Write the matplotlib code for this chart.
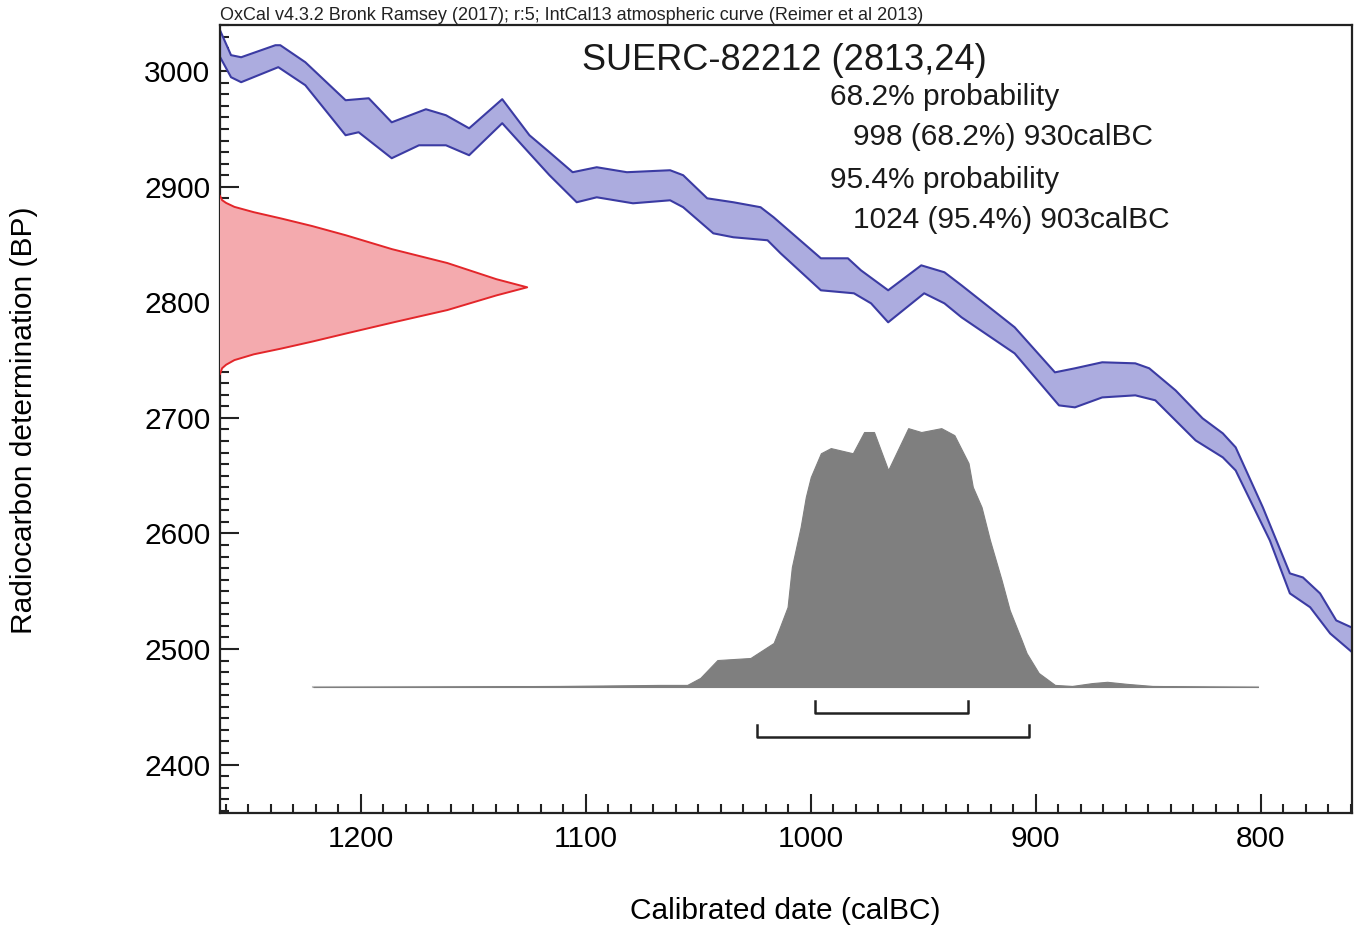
#!/usr/bin/env python3
"""OxCal-style calibration plot for SUERC-82212 (2813,24)."""

import numpy as np
import matplotlib
matplotlib.use("Agg")
import matplotlib.pyplot as plt
from matplotlib.ticker import MultipleLocator

plt.rcParams["font.family"] = ["Liberation Sans", "DejaVu Sans"]

# IntCal13 band, upper edge (calBC, BP)
CURVE_HI_YEAR = [1263.4, 1262.5, 1257.6, 1253.1, 1237.9, 1235.7, 1224.6, 1206.7,
                 1196.4, 1186.2, 1171.0, 1162.1, 1151.8, 1137.1, 1125.0, 1116.1,
                 1105.8, 1095.1, 1081.7, 1062.5, 1056.7, 1046.0, 1034.4, 1022.3,
                 1016.5, 995.5, 983.5, 977.7, 965.6, 950.9, 940.6, 933.0, 909.4,
                 891.5, 882.6, 870.5, 855.8, 849.6, 837.9, 825.9, 816.9, 811.2,
                 799.1, 787.1, 781.3, 773.7, 766.5, 756.7]
CURVE_HI_BP = [3038.1, 3035.5, 3013.9, 3012.1, 3022.5, 3022.5, 3007.8, 2974.9,
               2976.6, 2955.8, 2967.1, 2961.9, 2950.6, 2975.8, 2944.6, 2929.9,
               2912.6, 2916.9, 2912.6, 2914.3, 2910.0, 2890.0, 2886.6, 2882.3,
               2873.6, 2838.1, 2838.1, 2827.7, 2810.4, 2832.0, 2826.0, 2814.7,
               2778.4, 2739.4, 2742.9, 2748.1, 2747.2, 2742.9, 2723.8, 2699.6,
               2686.6, 2674.5, 2622.5, 2565.4, 2561.9, 2548.1, 2524.7, 2516.0]

# IntCal13 band, lower edge
CURVE_LO_YEAR = [1263.4, 1257.6, 1253.1, 1236.6, 1224.6, 1206.7, 1200.9, 1186.2,
                 1174.1, 1162.1, 1151.8, 1137.1, 1125.0, 1116.1, 1104.0, 1095.1,
                 1079.0, 1062.5, 1056.7, 1043.3, 1034.4, 1019.2, 1013.4, 995.5,
                 980.8, 973.2, 965.6, 949.6, 940.6, 933.0, 909.4, 889.7, 882.6,
                 870.5, 855.8, 846.9, 829.0, 816.9, 811.2, 796.0, 787.1, 778.1,
                 769.2, 756.7]
CURVE_LO_BP = [3015.6, 2994.8, 2990.5, 3003.5, 2987.9, 2944.6, 2947.2, 2924.7,
               2935.9, 2935.9, 2927.3, 2955.0, 2929.0, 2910.0, 2886.6, 2890.9,
               2885.7, 2888.3, 2882.3, 2859.7, 2856.3, 2853.7, 2842.4, 2810.4,
               2807.8, 2799.1, 2782.7, 2807.8, 2799.1, 2787.0, 2755.8, 2710.8,
               2709.1, 2717.7, 2719.5, 2715.2, 2680.5, 2665.8, 2654.5, 2593.9,
               2548.1, 2536.1, 2513.4, 2492.6]

# radiocarbon measurement (red), relative height by BP
MEAS_BP = [2892, 2888.4, 2886, 2882.6, 2878, 2872.5, 2866, 2858, 2846, 2834,
           2820, 2813, 2806, 2793.3, 2783, 2773, 2766, 2760, 2755, 2750,
           2746, 2743, 2738]
MEAS_REL = [0.0, 0.007, 0.02, 0.047, 0.11, 0.20, 0.30, 0.41, 0.56, 0.74,
            0.90, 1.0, 0.90, 0.74, 0.57, 0.41, 0.30, 0.20, 0.11, 0.047,
            0.02, 0.007, 0.0]

# calibrated distribution (grey), relative probability by calBC
CAL_YEAR = [1221.0, 1111.6, 1067.0, 1054.9, 1049.1, 1041.5, 1026.8, 1016.5,
            1014.2, 1010.3, 1008.4, 1004.5, 1002.2, 1000.0, 995.5, 991.1,
            981.3, 976.3, 971.9, 965.6, 956.7, 950.9, 942.0, 936.2, 929.9,
            928.0, 924.1, 920.4, 915.2, 911.6, 906.3, 904.1, 898.7, 891.5,
            883.9, 875.0, 868.3, 859.4, 848.2, 801.3]
CAL_REL = [0.0, 0.004, 0.008, 0.008, 0.035, 0.104, 0.112, 0.17, 0.22, 0.309,
           0.463, 0.618, 0.734, 0.811, 0.903, 0.923, 0.903, 0.985, 0.985,
           0.838, 1.0, 0.985, 1.0, 0.973, 0.865, 0.773, 0.695, 0.568, 0.413,
           0.297, 0.181, 0.131, 0.054, 0.008, 0.004, 0.015, 0.02, 0.012,
           0.004, 0.0]

RANGE_68 = (998, 930)
RANGE_95 = (1024, 903)

TITLE = "SUERC-82212 (2813,24)"
HEADER = ("OxCal v4.3.2 Bronk Ramsey (2017); r:5; "
          "IntCal13 atmospheric curve (Reimer et al 2013)")

XLIM = (1262.5, 759.5)
YLIM = (2358.3, 3040.0)

fig = plt.figure(figsize=(13.57, 9.30), dpi=100)
ax = fig.add_axes([220 / 1357, 1 - 812.7 / 930, 1132 / 1357, 787.7 / 930])

# calibration curve band
band_x = np.concatenate([CURVE_HI_YEAR, CURVE_LO_YEAR[::-1]])
band_y = np.concatenate([CURVE_HI_BP, CURVE_LO_BP[::-1]])
ax.fill(band_x, band_y, facecolor="#acacdf", edgecolor="#3b3ba3",
        linewidth=1.5, joinstyle="round", zorder=2)

# measurement on the y axis
meas_width = 136.5
meas_x = XLIM[0] - meas_width * np.array(MEAS_REL)
ax.fill_betweenx(MEAS_BP, XLIM[0], meas_x, facecolor="#f4aaae",
                 edgecolor="none", zorder=3)
ax.plot(meas_x, MEAS_BP, color="#e3262a", linewidth=1.4, zorder=4)

# calibrated distribution
cal_base = 2467.1
cal_height = 224.0
cal_top = cal_base + cal_height * np.array(CAL_REL)
ax.plot([CAL_YEAR[0], CAL_YEAR[-1]], [cal_base, cal_base],
        color="#c4c4c4", linewidth=1.5, zorder=3)
ax.fill_between(CAL_YEAR, cal_base, cal_top, facecolor="#7f7f7f",
                edgecolor="#7f7f7f", linewidth=0.8, zorder=4)

# range brackets
for (a, b), yb, yt in [(RANGE_68, 2445.0, 2455.0), (RANGE_95, 2423.4, 2434.0)]:
    ax.plot([a, a, b, b], [yt, yb, yb, yt], color="#222222",
            linewidth=1.8, zorder=5)

ax.set_xlim(*XLIM)
ax.set_ylim(*YLIM)

ax.xaxis.set_major_locator(MultipleLocator(100))
ax.xaxis.set_minor_locator(MultipleLocator(10))
ax.yaxis.set_major_locator(MultipleLocator(100))
ax.yaxis.set_minor_locator(MultipleLocator(10))
ax.tick_params(which="both", direction="in", top=False, right=False,
               width=1.5, color="#222222")
ax.tick_params(which="major", length=14, labelsize=21.5, pad=7)
ax.tick_params(which="minor", length=6.5)
ax.tick_params(axis="x", which="major", pad=9)

for spine in ax.spines.values():
    spine.set_linewidth(1.6)
    spine.set_color("#222222")

ax.set_xlabel("Calibrated date (calBC)", fontsize=21.5)
ax.xaxis.set_label_coords(0.499, -0.107)
ax.set_ylabel("Radiocarbon determination (BP)", fontsize=21.5)
ax.yaxis.set_label_coords(-0.161, 0.4985)

ax.text(0.499, 0.955, TITLE, transform=ax.transAxes, fontsize=26,
        ha="center", va="center", color="#1a1a1a")
lines = [
    (830, 97, "68.2% probability"),
    (853, 137, "998 (68.2%) 930calBC"),
    (830, 180, "95.4% probability"),
    (853, 220, "1024 (95.4%) 903calBC"),
]
for px, py, s in lines:
    fig.text(px / 1357, 1 - py / 930, s, fontsize=21.5, ha="left",
             va="center", color="#1a1a1a")

fig.text(220 / 1357, 1 - 16 / 930, HEADER, fontsize=13, ha="left",
         va="center", color="#222222")

fig.savefig("out.png", dpi=100)
